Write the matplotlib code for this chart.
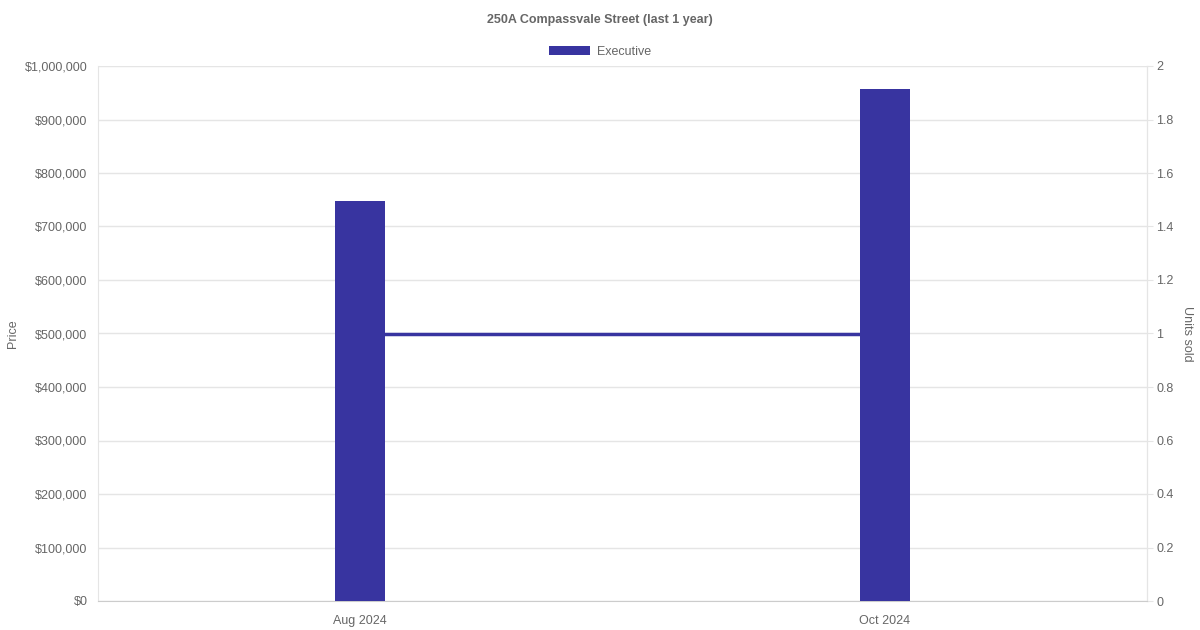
import matplotlib
matplotlib.use("Agg")
import matplotlib.pyplot as plt
from matplotlib.ticker import FuncFormatter, MultipleLocator

plt.rcParams['font.family'] = ['Liberation Sans', 'DejaVu Sans']

months = ["Aug 2024", "Oct 2024"]
prices = [748000, 957000]
units_sold = [1, 1]
series_name = "Executive"

bar_color = "#3834a0"
text_color = "#666666"
grid_color = "#e5e5e5"

fig = plt.figure(figsize=(12, 6.3), dpi=100)
ax = fig.add_axes([98 / 1200, 29 / 630, (1147 - 98) / 1200, (601 - 66) / 630])
ax2 = ax.twinx()

x = list(range(len(months)))

# units line on the right axis, bars drawn on top of it
ax2.plot(x, units_sold, color=bar_color, linewidth=2.5, zorder=2)
ax2.set_ylim(0, 2)
ax2.yaxis.set_major_locator(MultipleLocator(0.2))
ax2.yaxis.set_major_formatter(FuncFormatter(lambda v, p: f"{v:g}"))
ax2.grid(axis="y", color=grid_color, linewidth=1, zorder=0)
ax2.set_axisbelow(True)

ax.set_zorder(ax2.get_zorder() + 1)
ax.patch.set_visible(False)
bars = ax.bar(x, prices, width=0.095, color=bar_color, label=series_name, zorder=3)

ax.set_xlim(-0.5, 1.5)
ax.set_ylim(0, 1000000)
ax.yaxis.set_major_locator(MultipleLocator(100000))
ax.yaxis.set_major_formatter(FuncFormatter(lambda v, p: f"${v:,.0f}"))
ax.set_xticks(x)
ax.set_xticklabels(months)

for a in (ax, ax2):
    a.spines["top"].set_visible(False)
    a.tick_params(colors=text_color, labelsize=9)
ax.spines["left"].set_color(grid_color)
ax.spines["right"].set_color(grid_color)
ax.spines["bottom"].set_color("#cccccc")
ax2.spines["left"].set_visible(False)
ax2.spines["bottom"].set_visible(False)
ax2.spines["right"].set_color(grid_color)
ax.tick_params(axis="y", length=0, pad=7.5)
ax.tick_params(axis="x", length=0, pad=10)
ax2.tick_params(axis="y", length=4, color=grid_color, pad=2.5)

ax.set_ylabel("Price", color=text_color, fontsize=9, labelpad=4)
ax2.set_ylabel("Units sold", color=text_color, fontsize=9, rotation=-90, labelpad=14)

fig.suptitle("250A Compassvale Street (last 1 year)", y=0.978, fontsize=9,
             fontweight="bold", color=text_color)
fig.legend(handles=[bars], labels=[series_name], loc="upper center",
           bbox_to_anchor=(0.5, 0.945), frameon=False, fontsize=9,
           labelcolor=text_color, handlelength=3.3, handleheight=0.8,
           handletextpad=0.6)

fig.savefig("out.png", dpi=100)
